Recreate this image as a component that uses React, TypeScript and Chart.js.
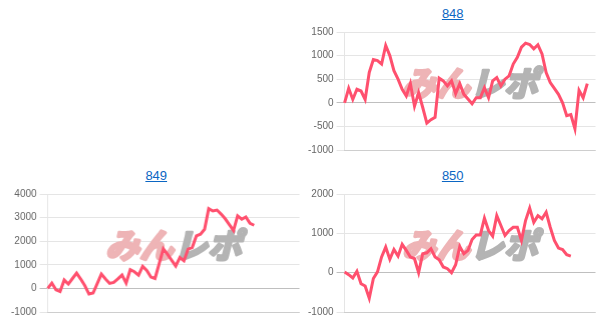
import React, { useEffect, useRef } from "react";
import { Chart, registerables } from "chart.js";
Chart.register(...registerables);

// hidden x categories (game points)
const X_COUNT = 62;
const xLabels: string[] = Array.from({ length: X_COUNT }, (_, i) => String(i + 1));

const title848 = "848";
const title849 = "849";
const title850 = "850";

const data848 = [
  0, 307, 71, 286, 250, 71, 643, 914, 893, 821,
  1214, 1000, 679, 500, 286, 143, 407, -71, 214, -100,
  -429, -357, -307, 521, 464, 357, 464, 193, 407, 179,
  80, -21, 107, 107, 321, 107, 464, 536, 357, 500,
  571, 821, 964, 1179, 1264, 1236, 1143, 1229, 1036, 643,
  429, 307, 179, 0, -271, -250, -550, 264, 107, 407,
];

const data849 = [
  0, 226, -60, -130, 353, 183, 420, 650, 395, 113,
  -240, -198, 200, 607, 400, 212, 254, 400, 565, 226,
  791, 706, 565, 932, 760, 480, 420, 1050, 1680, 1450,
  1200, 950, 1310, 1170, 1660, 1730, 2225, 2296, 2507, 3380,
  3280, 3320, 3150, 2950, 2700, 2450, 3070, 2930, 3030, 2760,
  2676,
];

const data850 = [
  15, -50, -135, 35, -280, -340, -650, -150, 20, 400,
  650, 340, 590, 420, 720, 565, 400, 355, 0, 480,
  505, 610, 400, 330, 145, 100, 0, 200, 665, 480,
  565, 845, 960, 960, 1385, 1070, 930, 1450, 1200, 945,
  1070, 1155, 1155, 820, 1325, 1640, 1280, 1450, 1370, 1535,
  1155, 820, 625, 590, 455, 420,
];

const yTicks848 = [-1000, -500, 0, 500, 1000, 1500];
const yTicks849 = [-1000, 0, 1000, 2000, 3000, 4000];
const yTicks850 = [-1000, 0, 1000, 2000];

const LINE_COLOR = "rgb(255, 80, 110)";
const FONT = 'Arial, "Liberation Sans", sans-serif';

const watermarkPlugin = {
  id: "watermark",
  beforeDatasetsDraw(chart: any) {
    const { ctx, chartArea: a } = chart;
    const cx = (a.left + a.right) / 2;
    const cy = (a.top + a.bottom) / 2 - 8;
    ctx.save();
    ctx.font = 'italic bold 34px "Noto Sans CJK JP"';
    ctx.textBaseline = "middle";
    ctx.lineJoin = "round";
    const p = "みん";
    const g = "レポ";
    const wp = ctx.measureText(p).width;
    const wg = ctx.measureText(g).width;
    const x = cx - (wp + wg) / 2;
    ctx.lineWidth = 3;
    ctx.fillStyle = "rgb(238, 180, 182)";
    ctx.strokeStyle = "rgb(238, 180, 182)";
    ctx.strokeText(p, x, cy);
    ctx.fillText(p, x, cy);
    ctx.fillStyle = "rgb(180, 180, 180)";
    ctx.strokeStyle = "rgb(180, 180, 180)";
    ctx.strokeText(g, x + wp, cy);
    ctx.fillText(g, x + wp, cy);
    ctx.restore();
  },
};

function MiniChart({ title, values, ticks }: { title: string; values: number[]; ticks: number[] }) {
  const ref = useRef<HTMLCanvasElement | null>(null);
  useEffect(() => {
    if (!ref.current) return;
    const chart = new Chart(ref.current, {
      type: "line",
      data: {
        labels: xLabels,
        datasets: [
          {
            data: values,
            borderColor: LINE_COLOR,
            backgroundColor: LINE_COLOR,
            borderWidth: 3,
            pointRadius: 0,
            tension: 0,
            fill: false,
          },
        ],
      },
      options: {
        responsive: true,
        maintainAspectRatio: false,
        animation: false,
        layout: { padding: { right: 6, top: 0, bottom: 12 } },
        plugins: { legend: { display: false }, tooltip: { enabled: false } },
        scales: {
          x: {
            ticks: { display: false },
            grid: { display: false },
            border: { display: true, color: "rgba(0,0,0,0.1)" },
          },
          y: {
            min: ticks[0],
            max: ticks[ticks.length - 1],
            ticks: {
              stepSize: ticks[1] - ticks[0],
              color: "#666",
              font: { size: 10, family: FONT },
              padding: 3,
              callback: (v: any) => String(v),
            },
            grid: {
              color: (c: any) => (c.tick && c.tick.value === 0 ? "rgba(0,0,0,0.25)" : "rgba(0,0,0,0.1)"),
            },
            border: { color: "rgba(0,0,0,0.1)" },
          },
        },
      },
      plugins: [watermarkPlugin],
    });
    return () => chart.destroy();
  }, [values, ticks]);

  return (
    <div style={{ width: "50%", height: 162, display: "flex", flexDirection: "column" }}>
      <div style={{ textAlign: "center", fontFamily: FONT, fontSize: 13, lineHeight: "11px", height: 15 }}>
        <a href="#" style={{ color: "#0b66c3" }}>{title}</a>
      </div>
      <div style={{ position: "relative", height: 147 }}>
        <canvas ref={ref} />
      </div>
    </div>
  );
}

export default function App() {
  return (
    <div style={{ display: "flex", flexWrap: "wrap", width: "100%" }}>
      <div style={{ width: "50%", height: 162 }} />
      <MiniChart title={title848} values={data848} ticks={yTicks848} />
      <MiniChart title={title849} values={data849} ticks={yTicks849} />
      <MiniChart title={title850} values={data850} ticks={yTicks850} />
    </div>
  );
}
